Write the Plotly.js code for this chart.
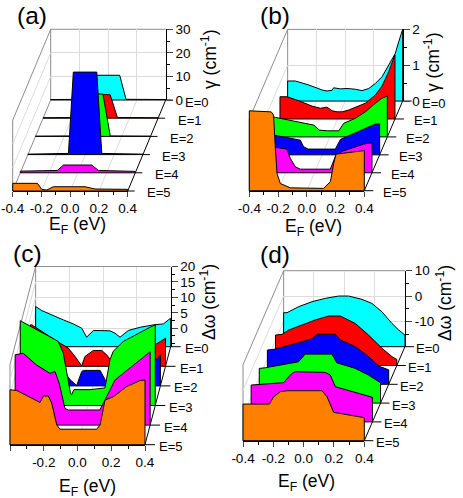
<!DOCTYPE html>
<html>
<head>
<meta charset="utf-8">
<script src="https://cdn.plot.ly/plotly-3.0.1.min.js"></script>
<style>body{margin:0;background:#fff}</style>
</head>
<body>
<div id="plotArea"></div>
<script>
// values, one x/y pair per layer (E=0 is the back layer)
var layerNames = ["E=0", "E=1", "E=2", "E=3", "E=4", "E=5"];
var colorsAB = ["#00ffff", "#ff0000", "#00ff00", "#0000ff", "#ff00ff", "#ff8000"];
var colorsCD = ["#00ffff", "#ff0000", "#0000ff", "#00ff00", "#ff00ff", "#ff8000"];
var efTickVals = [-0.4, -0.2, 0, 0.2, 0.4];
var efTickText = ["-0.4", "-0.2", "0.0", "0.2", "0.4"];
var efMinor = [-0.3, -0.1, 0.1, 0.3];

// (a)
var aX0 = [-0.4, -0.125, -0.08, 0.08, 0.124, 0.4];
var aY0 = [0.2, 0.3, 10.5, 10.5, 0.3, 0.2];
var aX1 = [-0.4, -0.117, -0.066, 0.066, 0.117, 0.4];
var aY1 = [0.2, 0.3, 10, 10, 0.3, 0.2];
var aX2 = [-0.4, -0.12, -0.069, 0.069, 0.12, 0.4];
var aY2 = [0.1, 0.2, 18, 18, 0.2, 0.1];
var aX3 = [-0.4, -0.118, -0.084, 0.079, 0.114, 0.4];
var aY3 = [0.2, 0.5, 35, 35, 0.5, 0.2];
var aX4 = [-0.4, -0.142, -0.1, 0.097, 0.143, 0.4];
var aY4 = [0.7, 1, 3.3, 3.3, 1, 0.6];
var aX5 = [-0.4, -0.228, -0.198, -0.163, -0.117, 0.103, 0.173, 0.4];
var aY5 = [3.25, 3.25, 0.7, 0.4, 1.8, 1.8, 0.85, 0.7];
var aTicks = [0, 10, 20, 30];
var aTickText = ["0", "10", "20", "30"];
var aMinor = [5, 15, 25];

// (b)
var bX0 = [-0.4, -0.347, -0.254, -0.161, -0.126, -0.091, -0.08, -0.033, 0.013, 0.071, 0.117, 0.164, 0.21, 0.257, 0.303, 0.349, 0.373, 0.4];
var bY0 = [0.56, 0.56, 0.45, 0.31, 0.28, 0.3, 0.37, 0.34, 0.35, 0.33, 0.29, 0.35, 0.49, 0.68, 1, 1.33, 1.66, 2];
var bX1 = [-0.4, -0.351, -0.27, -0.177, -0.119, -0.073, -0.038, -0.003, 0.032, 0.078, 0.124, 0.194, 0.264, 0.31, 0.356, 0.4];
var bY1 = [0.62, 0.62, 0.51, 0.36, 0.3, 0.33, 0.23, 0.2, 0.2, 0.25, 0.32, 0.44, 0.67, 0.92, 1.32, 1.79];
var bX2 = [-0.4, -0.379, -0.286, -0.194, -0.112, -0.073, -0.019, 0.062, 0.097, 0.178, 0.247, 0.317, 0.363, 0.4];
var bY2 = [0.56, 0.545, 0.47, 0.4, 0.33, 0.19, 0.17, 0.17, 0.38, 0.52, 0.7, 0.94, 1.08, 1.14];
var bX3 = [-0.4, -0.314, -0.233, -0.152, -0.129, -0.098, 0, 0.092, 0.127, 0.219, 0.301, 0.37, 0.4];
var bY3 = [0.6, 0.534, 0.48, 0.41, 0.227, 0.16, 0.16, 0.16, 0.43, 0.6, 0.74, 0.86, 0.86];
var bX4 = [-0.4, -0.254, -0.191, -0.168, -0.133, -0.098, 0.006, 0.11, 0.145, 0.192, 0.342, 0.4];
var bY4 = [0.75, 0.7, 0.66, 0.4, 0.167, 0.1, 0.1, 0.1, 0.45, 0.6, 0.8, 0.84];
var bX5 = [-0.4, -0.247, -0.231, -0.219, -0.207, -0.184, -0.115, 0.117, 0.164, 0.187, 0.203, 0.4];
var bY5 = [2.23, 2.2, 2.11, 1.2, 0.48, 0.2, 0.08, 0.065, 0.25, 0.76, 1.02, 1.12];
var bTicks = [0, 1, 2];
var bTickText = ["0", "1", "2"];
var bMinor = [0.5, 1.5];

// (c)
var cX0 = [-0.4, -0.364, -0.295, -0.236, -0.177, -0.127, -0.098, -0.058, -0.019, 0.041, 0.07, 0.1, 0.149, 0.219, 0.298, 0.357, 0.4];
var cY0 = [7.03, 5.73, 4, 2.7, 1.4, 0, -2.9, -0.76, -0.76, -0.86, -1.6, -2.9, -0.76, 0.3, 1.08, 1.4, 3.24];
var cX1 = [-0.4, -0.393, -0.304, -0.225, -0.176, -0.136, -0.097, -0.077, -0.028, 0.022, 0.051, 0.081, 0.21, 0.348, 0.4];
var cY1 = [7.46, 7.46, 4.2, 1.5, -0.1, -2.8, -5.84, -2.8, -0.86, -0.86, -2.27, -4.4, -0.6, 1.3, 3.1];
var cX2 = [-0.4, -0.3, -0.2, -0.135, -0.096, -0.066, -0.056, 0.043, 0.072, 0.1, 0.2, 0.373, 0.4];
var cY2 = [6, 4, 1, -4, -5.84, -1.3, -0.97, -0.97, -4, -5.84, 0, 2.27, 4.1];
var cX3 = [-0.4, -0.333, -0.244, -0.175, -0.145, -0.125, -0.102, -0.096, -0.082, 0.013, 0.102, 0.132, 0.151, 0.211, 0.27, 0.349, 0.4];
var cY3 = [21.5, 19.5, 17, 14.8, 11, 4.5, -2.2, -2.5, -0.86, -0.86, -0.3, 8.9, 11.6, 14.8, 16.6, 18.8, 20.2];
var cX4 = [-0.4, -0.352, -0.273, -0.194, -0.164, -0.139, -0.105, -0.085, 0.102, 0.142, 0.191, 0.4];
var cY4 = [16.8, 17.3, 13.5, 10.8, 11.4, 7.6, -0.54, -1.1, -1.1, 3.2, 8.6, 17.8];
var cX5 = [-0.4, -0.36, -0.291, -0.222, -0.202, -0.173, -0.153, -0.123, -0.104, 0.114, 0.134, 0.163, 0.213, 0.292, 0.371, 0.4];
var cY5 = [11.8, 11.6, 9.6, 7.7, 9.8, 9.8, 7.5, 0.43, -0.97, -0.97, 0.43, 8.5, 9.6, 12.9, 14.8, 15];
var cTicks = [0, 5, 10, 15, 20];
var cTickText = ["0", "5", "10", "15", "20"];
var cMinor = [-5, -2.5, 2.5, 7.5, 12.5, 17.5];

// (d)
var dX0 = [-0.4, -0.378, -0.345, -0.301, -0.213, -0.125, -0.037, 0.029, 0.116, 0.182, 0.248, 0.314, 0.358, 0.4];
var dY0 = [-6.58, -6.58, -5.53, -4.2, -2.24, -0.92, 0, 0, -1.3, -2.9, -6.2, -10.8, -13.4, -15.4];
var dX1 = [-0.4, -0.357, -0.313, -0.226, -0.138, -0.05, 0.027, 0.126, 0.214, 0.302, 0.368, 0.4];
var dY1 = [-7.97, -7.7, -6, -4, -2, -0.47, -0.47, -3.4, -8, -13.2, -16.5, -17.6];
var dX2 = [-0.4, -0.358, -0.281, -0.193, -0.105, -0.073, 0.048, 0.081, 0.18, 0.268, 0.334, 0.4];
var dY2 = [-6.45, -6.2, -5.1, -3.55, -2, -0.26, -0.26, -2.5, -5.1, -9.1, -12.8, -14.3];
var dX3 = [-0.4, -0.36, -0.141, -0.097, 0.079, 0.112, 0.233, 0.321, 0.4];
var dY3 = [-6.3, -6.05, -3.7, -0.66, -0.66, -4.1, -6.3, -8.95, -12];
var dX4 = [-0.4, -0.186, -0.131, -0.109, 0.089, 0.122, 0.155, 0.4];
var dY4 = [-5.45, -4.5, -0.84, -0.18, -0.45, -1.5, -6.1, -10.3];
var dX5 = [-0.4, -0.226, -0.198, -0.154, -0.11, 0.121, 0.154, 0.198, 0.4];
var dY5 = [-5.53, -5.53, -2.63, -0.66, -0.26, -0.26, -2.63, -8.8, -10.9];
var dTicks = [-10, 0, 10];
var dTickText = ["-10", "0", "10"];
var dMinor = [-15, -5, 5];

var W = 463, H = 498;
var FONT = "Liberation Sans, Arial, sans-serif";

// page geometry of each pseudo-3D box, in pixels
var panels = [
  {label: "(a)", labelPos: [32, 15], x0: 12.7, w: 115, base: 191, dx: 7.6, dy: 18.2, scale: 2.357, colors: colorsAB,
   yMin: 0, yMax: 30, yHead: 40, xs: [aX0, aX1, aX2, aX3, aX4, aX5], ys: [aY0, aY1, aY2, aY3, aY4, aY5],
   ticks: aTicks, tickText: aTickText, minor: aMinor, yTitle: "γ (cm<sup>-1</sup>)", yTitlePos: [209, 59], xTitlePos: [77, 225],
   eTick: 7, eGap: 18.5, eDown: 2},
  {label: "(b)", labelPos: [275, 15], x0: 249.3, w: 115, base: 190.7, dx: 7.67, dy: 17.93, scale: 35.83, colors: colorsAB,
   yMin: 0, yMax: 2, yHead: 2.5, xs: [bX0, bX1, bX2, bX3, bX4, bX5], ys: [bY0, bY1, bY2, bY3, bY4, bY5],
   ticks: bTicks, tickText: bTickText, minor: bMinor, yTitle: "γ (cm<sup>-1</sup>)", yTitlePos: [432, 62], xTitlePos: [313, 228],
   eTick: 9, eGap: 18, eDown: 2},
  {label: "(c)", labelPos: [27, 253], x0: 10, w: 135, base: 444.7, dx: 5.13, dy: 19.6, scale: 3.083, colors: colorsCD,
   yMin: -6, yMax: 20, yHead: 25, xs: [cX0, cX1, cX2, cX3, cX4, cX5], ys: [cY0, cY1, cY2, cY3, cY4, cY5],
   ticks: cTicks, tickText: cTickText, minor: cMinor, yTitle: "Δω (cm<sup>-1</sup>)", yTitlePos: [208, 302], xTitlePos: [87, 487],
   eTick: 10, eGap: 13, eDown: 2},
  {label: "(d)", labelPos: [275, 254], x0: 243, w: 121.3, base: 440.7, dx: 8.13, dy: 18.8, scale: 2.533, colors: colorsCD,
   yMin: -20, yMax: 10, yHead: 10, xs: [dX0, dX1, dX2, dX3, dX4, dX5], ys: [dY0, dY1, dY2, dY3, dY4, dY5],
   ticks: dTicks, tickText: dTickText, minor: dMinor, yTitle: "Δω (cm<sup>-1</sup>)", yTitlePos: [444, 303], xTitlePos: [306, 482],
   eTick: 9, eGap: 10.5, eDown: 2}
];

var traces = [], shapes = [], annotations = [];
var layout = {
  width: W, height: H, autosize: false,
  margin: {l: 0, r: 0, t: 0, b: 0, pad: 0},
  paper_bgcolor: "#fff", plot_bgcolor: "rgba(0,0,0,0)",
  showlegend: false,
  font: {family: FONT, size: 13.5, color: "#000"}
};

function px(x) { return x / W; }
function py(y) { return 1 - y / H; }

function wallLine(x0, y0, x1, y1, color, width) {
  shapes.push({type: "line", layer: "below", xref: "paper", yref: "paper",
    x0: px(x0), y0: py(y0), x1: px(x1), y1: py(y1),
    line: {color: color, width: width || 1}});
}

function note(text, x, y, size, opts) {
  annotations.push(Object.assign({text: text, xref: "paper", yref: "paper", x: px(x), y: py(y),
    showarrow: false, xanchor: "center", yanchor: "middle", borderpad: 0,
    font: {family: FONT, size: size, color: "#000"}}, opts || {}));
}

var axisNo = 0;
// adds one x/y axis pair whose domain is given in page pixels
function addAxes(left, right, bottom, top, xOpts, yOpts) {
  axisNo++;
  var s = axisNo === 1 ? "" : axisNo;
  layout["xaxis" + s] = Object.assign({domain: [px(left), px(right)], anchor: "y" + s, fixedrange: true}, xOpts);
  layout["yaxis" + s] = Object.assign({domain: [py(bottom), py(top)], anchor: "x" + s, fixedrange: true}, yOpts);
  return {x: "x" + s, y: "y" + s};
}

// the frame axes only carry ticks, but a subplot needs a trace to be drawn
function holdSubplot(ax, y) {
  traces.push({type: "scatter", mode: "lines", x: [0], y: [y], xaxis: ax.x, yaxis: ax.y,
    line: {width: 0}, hoverinfo: "skip"});
}

panels.forEach(function (p) {
  var backX = p.x0 + 5 * p.dx, backBase = p.base - 5 * p.dy;
  var wallH = (p.yMax - p.yMin) * p.scale;
  var pad = 2; // room so the outline is not cut at the axis edge
  var xPad = pad * 0.8 / p.w, yPad = pad / p.scale;

  // walls and floor
  var gray = "#8c8c8c", light = "#dcdcdc";
  wallLine(p.x0, p.base, p.x0, p.base - wallH, gray);
  wallLine(backX, backBase, backX, backBase - wallH, gray);
  wallLine(p.x0, p.base - wallH, backX, backBase - wallH, gray);
  wallLine(p.x0, p.base, backX, backBase, gray);
  wallLine(backX, backBase - wallH, backX + p.w, backBase - wallH, gray);
  p.ticks.forEach(function (t) {
    var h = (t - p.yMin) * p.scale;
    if (t > p.yMin && t < p.yMax) wallLine(p.x0, p.base - h, backX, backBase - h, light);
  });
  efTickVals.forEach(function (v) {
    var fx = p.x0 + (v + 0.4) / 0.8 * p.w;
    if (v > -0.4 && v < 0.4) wallLine(fx, p.base, fx + 5 * p.dx, backBase, light);
  });
  // right-hand floor edge with one tick per layer
  wallLine(p.x0 + p.w, p.base, backX + p.w, backBase, "#000");
  layerNames.forEach(function (name, k) {
    var n = 5 - k;
    var rx = p.x0 + p.w + n * p.dx, ry = p.base - n * p.dy;
    wallLine(rx, ry, rx + p.eTick, ry, "#000");
    note(name, rx + p.eGap, ry + p.eDown, 13, {xanchor: "left"});
  });

  // back wall: vertical axis and grid
  var back = addAxes(backX, backX + p.w, backBase, backBase - wallH,
    {range: [-0.4, 0.4], tickvals: efTickVals, showticklabels: false, ticks: "", showgrid: true, gridcolor: light, gridwidth: 1, zeroline: false},
    {range: [p.yMin, p.yMax], side: "right", tickvals: p.ticks, ticktext: p.tickText, ticks: "outside", ticklen: 6, tickwidth: 1,
     showline: true, linecolor: "#000", linewidth: 1, showgrid: true, gridcolor: light, zeroline: false,
     tickfont: {family: FONT, size: 13.5},
     minor: {tickvals: p.minor, ticks: "outside", ticklen: 3, tickcolor: "#000", showgrid: false}});
  holdSubplot(back, p.yMin);

  // one filled layer per E, back to front
  p.xs.forEach(function (xv, k) {
    var n = 5 - k;
    var l = p.x0 + n * p.dx, b = p.base - n * p.dy;
    var ax = addAxes(l - pad, l + p.w + pad, b + pad, b - (p.yHead - p.yMin) * p.scale,
      {range: [-0.4 - xPad, 0.4 + xPad], visible: false},
      {range: [p.yMin - yPad, p.yHead], visible: false});
    var yv = p.ys[k];
    traces.push({
      type: "scatter", mode: "lines", name: layerNames[k],
      xaxis: ax.x, yaxis: ax.y,
      x: [xv[0]].concat(xv, [xv[xv.length - 1], xv[0]]),
      y: [p.yMin].concat(yv, [p.yMin, p.yMin]),
      fill: "toself", fillcolor: p.colors[k],
      line: {color: "#000", width: 1}, hoverinfo: "skip"
    });
  });

  // front edge with the energy ticks
  var front = addAxes(p.x0, p.x0 + p.w, p.base, p.base - wallH,
    {range: [-0.4, 0.4], tickvals: efTickVals, ticktext: efTickText, ticks: "outside", ticklen: 5, tickwidth: 1,
     showline: true, linecolor: "#000", linewidth: 1, showgrid: false, zeroline: false,
     tickfont: {family: FONT, size: 13.5},
     minor: {tickvals: efMinor, ticks: "outside", ticklen: 3, tickcolor: "#000", showgrid: false}},
    {range: [p.yMin, p.yMax], visible: false});
  holdSubplot(front, p.yMin);

  note(p.label, p.labelPos[0], p.labelPos[1], 24.5);
  note("E<sub>F</sub> (eV)", p.xTitlePos[0], p.xTitlePos[1], 17.5);
  note(p.yTitle, p.yTitlePos[0], p.yTitlePos[1], 17.5, {textangle: -90});
});

layout.shapes = shapes;
layout.annotations = annotations;

Plotly.newPlot("plotArea", traces, layout, {displayModeBar: false, staticPlot: true});
</script>
</body>
</html>
